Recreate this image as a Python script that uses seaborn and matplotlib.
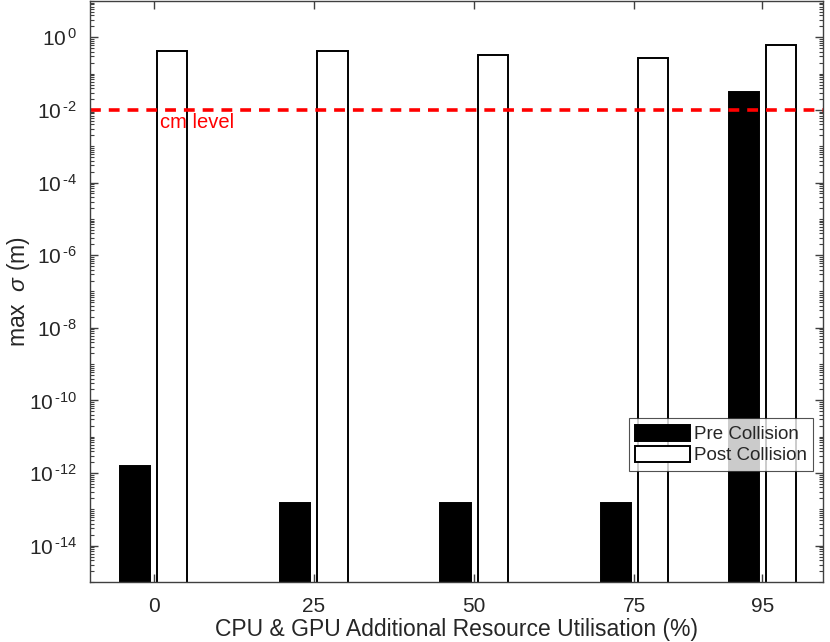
import numpy as np
import pandas as pd
import matplotlib
matplotlib.use("Agg")
import matplotlib.pyplot as plt
import matplotlib.ticker as mticker
import seaborn as sns

# values
utilisation = [0, 25, 50, 75, 95]
pre_collision = [1.6e-12, 1.5e-13, 1.5e-13, 1.5e-13, 3.1e-2]
post_collision = [0.42, 0.42, 0.32, 0.27, 0.60]
cm_level = 1e-2

df = pd.DataFrame({
    "util": utilisation * 2,
    "sigma": pre_collision + post_collision,
    "phase": ["Pre Collision"] * 5 + ["Post Collision"] * 5,
})

sns.set_style("ticks")
plt.rcParams['font.family'] = ['Liberation Sans', 'DejaVu Sans']
plt.rcParams['mathtext.fontset'] = 'custom'
plt.rcParams['mathtext.rm'] = 'Liberation Sans'
plt.rcParams['mathtext.it'] = 'Liberation Sans:italic'

fig = plt.figure(figsize=(8.3, 6.42), dpi=100)
ax = fig.add_axes([0.108, 0.0935, 0.884, 0.905])

sns.barplot(data=df, x="util", y="sigma", hue="phase", native_scale=True,
            hue_order=["Pre Collision", "Post Collision"],
            palette={"Pre Collision": "black", "Post Collision": "white"},
            edgecolor="black", linewidth=1.4, width=0.58, gap=0.19,
            errorbar=None, ax=ax)

ax.set_yscale("log")
ax.set_ylim(1e-15, 1e1)
ax.set_xlim(-10, 104.5)

ax.axhline(cm_level, color="red", linestyle=(0, (3, 2.2)), linewidth=2.6)
ax.text(1, 4.4e-3, "cm level", color="red", fontsize=14.5, va="center", ha="left")

def pow10(v, pos):
    e = int(round(np.log10(v)))
    if e < 0:
        return r"$\mathregular{10^{\,\text{-}%d}}$" % (-e)
    return r"$\mathregular{10^{\,%d}}$" % e

ax.set_xticks(utilisation)
ax.set_yticks(10.0 ** np.arange(-14, 1, 2))
ax.yaxis.set_major_formatter(mticker.FuncFormatter(pow10))
ax.yaxis.set_minor_locator(mticker.LogLocator(base=10, subs=np.arange(1, 10), numticks=40))
ax.yaxis.set_minor_formatter(mticker.NullFormatter())
ax.tick_params(which="both", direction="in", top=True, right=True, colors="#404040",
               labelcolor="#262626", labelsize=15)
ax.tick_params(which="major", length=6, width=1)
ax.tick_params(which="minor", length=3, width=0.8)
ax.tick_params(axis="x", pad=11)
ax.tick_params(axis="y", pad=9)
for s in ax.spines.values():
    s.set_color("#404040")
    s.set_linewidth(1)

ax.set_xlabel("CPU & GPU Additional Resource Utilisation (%)", fontsize=16.5,
              color="#262626", labelpad=1)
ax.set_ylabel(r"max  $\sigma$ (m)", fontsize=16.5, color="#262626")
ax.yaxis.set_label_coords(-0.079, 0.5)

old = ax.get_legend()
handles = old.legend_handles
labels = [t.get_text() for t in old.get_texts()]
old.remove()
leg = ax.legend(handles, labels, loc="lower right", bbox_to_anchor=(0.986, 0.191),
                fontsize=13.5, frameon=True, fancybox=False, edgecolor="#262626",
                handlelength=2.9, handleheight=0.95, handletextpad=0.2,
                borderpad=0.35, labelspacing=0.15, borderaxespad=0)
leg.get_frame().set_linewidth(0.8)
for h in leg.legend_handles:
    h.set_edgecolor("black")
    h.set_linewidth(1.4)

fig.savefig("out.png", dpi=100)
